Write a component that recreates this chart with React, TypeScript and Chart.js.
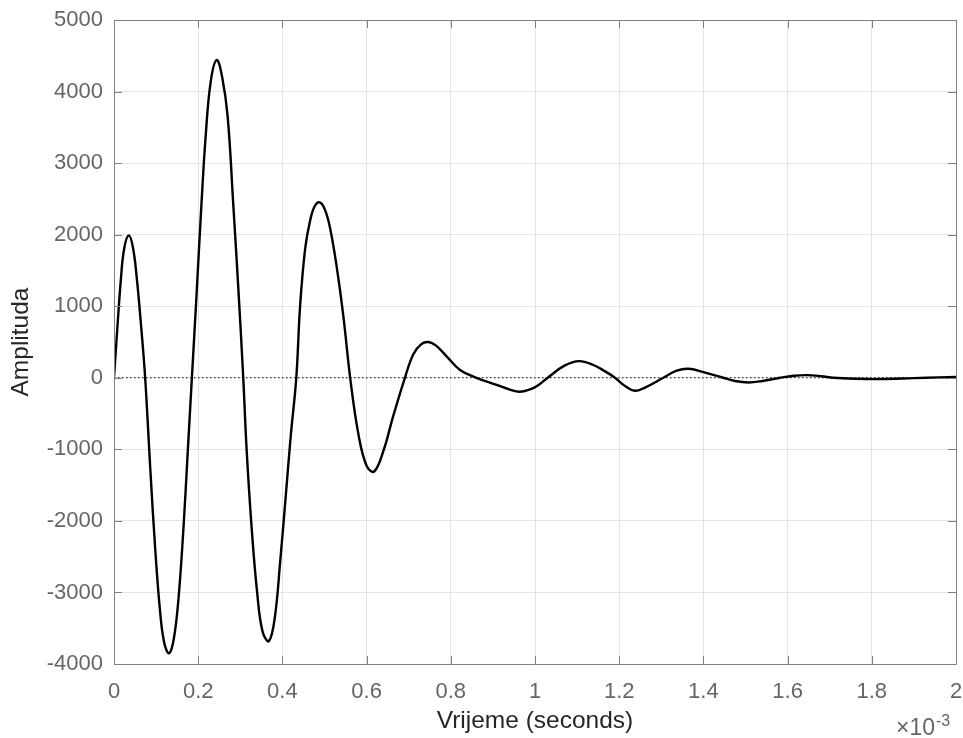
import React, { useEffect, useRef } from "react";
import { Chart, registerables } from "chart.js";

Chart.register(...registerables);

// time in units of 1e-3 s
const timeMs: number[] = [
  0, 0.008, 0.016, 0.024, 0.035, 0.045, 0.054, 0.064, 0.074,
  0.086, 0.098, 0.11, 0.12, 0.131, 0.142, 0.153, 0.165, 0.175, 0.185,
  0.196, 0.207, 0.218, 0.23, 0.244, 0.257, 0.27, 0.283, 0.295, 0.307,
  0.315, 0.327, 0.34, 0.353, 0.368, 0.382, 0.395, 0.408, 0.42, 0.433,
  0.442, 0.454, 0.466, 0.477, 0.489, 0.501, 0.513, 0.529, 0.545, 0.561,
  0.58, 0.6, 0.618, 0.64, 0.663, 0.691,
  0.711, 0.73, 0.747, 0.765, 0.79, 0.822, 0.861,
  0.909, 0.94, 0.964, 0.99, 1.004, 1.03, 1.07, 1.105, 1.14, 1.165, 1.19,
  1.215, 1.237, 1.26, 1.305, 1.335, 1.364, 1.4, 1.447,
  1.475, 1.507, 1.54, 1.582, 1.615, 1.645, 1.68, 1.709, 1.76, 1.82, 1.9, 1.96, 2.0,
];
const amplitude: number[] = [
  0, 700, 1350, 1800, 1990, 1820, 1400, 750, 0,
  -1250, -2400, -3300, -3720, -3850, -3650, -3100, -2100, -1050, 0,
  1150, 2350, 3400, 4150, 4440, 4200, 3650, 2450, 1280, 0,
  -1000, -2100, -3000, -3550, -3680, -3350, -2550, -1650, -800, 0,
  1000, 1800, 2200, 2400, 2450, 2350, 2100, 1550, 850, 0,
  -770, -1230, -1310, -1020, -540, 0,
  330, 470, 500, 450, 300, 110, 0,
  -100, -165, -196, -160, -120, 0, 170, 233, 175, 95, 0,
  -120, -182, -140, 0, 95, 126, 80, 0,
  -45, -65, -45, 0, 28, 37, 22, 0, -14, -18, -5, 5, 10,
];
const zeroLineX: number[] = [0, 2];
const zeroLineY: number[] = [0, 0];

const xTickLabels: string[] = ["0", "0.2", "0.4", "0.6", "0.8", "1", "1.2", "1.4", "1.6", "1.8", "2"];
const yTickLabels: string[] = ["-4000", "-3000", "-2000", "-1000", "0", "1000", "2000", "3000", "4000", "5000"];

const xTitle = "Vrijeme (seconds)";
const yTitle = "Amplituda";
const expBase = "\u00d710";
const expPower = "-3";

const FONT = "'Liberation Sans', Arial, Helvetica, sans-serif";

const matlabBox = {
  id: "matlabBox",
  afterDraw(chart: any) {
    const { ctx, chartArea } = chart;
    const { left, right, top, bottom } = chartArea;
    const xs = chart.scales.x;
    const ys = chart.scales.y;
    ctx.save();
    ctx.strokeStyle = "#808080";
    ctx.lineWidth = 1;
    ctx.beginPath();
    ctx.rect(Math.round(left) + 0.5, Math.round(top) + 0.5, Math.round(right - left), Math.round(bottom - top));
    ctx.stroke();
    const tl = 8;
    ctx.beginPath();
    xs.ticks.forEach((t: any) => {
      const px = Math.round(xs.getPixelForValue(t.value)) + 0.5;
      ctx.moveTo(px, bottom);
      ctx.lineTo(px, bottom - tl);
      ctx.moveTo(px, top);
      ctx.lineTo(px, top + tl);
    });
    ys.ticks.forEach((t: any) => {
      const py = Math.round(ys.getPixelForValue(t.value)) + 0.5;
      ctx.moveTo(left, py);
      ctx.lineTo(left + tl, py);
      ctx.moveTo(right, py);
      ctx.lineTo(right - tl, py);
    });
    ctx.stroke();
    // exponent label
    ctx.fillStyle = "#666666";
    ctx.textBaseline = "alphabetic";
    ctx.textAlign = "left";
    ctx.font = `23px ${FONT}`;
    ctx.fillText(expBase, 896, 735);
    const w = ctx.measureText(expBase).width;
    ctx.font = `16px ${FONT}`;
    ctx.fillText(expPower, 896 + w + 1, 726);
    ctx.restore();
  },
};

export default function App() {
  const ref = useRef<HTMLCanvasElement | null>(null);
  useEffect(() => {
    document.body.style.margin = "0";
    const canvas = ref.current;
    if (!canvas) return;
    const chart = new Chart(canvas, {
      type: "line",
      data: {
        datasets: [
          {
            data: zeroLineX.map((x, i) => ({ x, y: zeroLineY[i] })),
            borderColor: "#000000",
            borderWidth: 1,
            borderDash: [1.5, 2.5],
            pointRadius: 0,
            order: 2,
          },
          {
            data: timeMs.map((x, i) => ({ x, y: amplitude[i] })),
            borderColor: "#000000",
            borderWidth: 2.4,
            pointRadius: 0,
            tension: 0.4,
            order: 1,
          },
        ],
      },
      options: {
        animation: false,
        responsive: false,
        maintainAspectRatio: false,
        layout: { padding: { left: 0, top: 20, right: 7, bottom: 0 } },
        plugins: { legend: { display: false }, tooltip: { enabled: false } },
        scales: {
          x: {
            type: "linear",
            min: 0,
            max: 2,
            afterFit: (s: any) => {
              s.height = 74;
              s.paddingLeft = 0;
              s.paddingRight = 0;
            },
            ticks: {
              stepSize: 0.2,
              autoSkip: false,
              maxRotation: 0,
              padding: 15,
              color: "#666666",
              font: { family: FONT, size: 22 },
              callback: (_v: any, i: number) => xTickLabels[i],
            },
            grid: { color: "#e4e4e4", drawTicks: false },
            border: { display: false },
            title: {
              display: true,
              text: xTitle,
              color: "#262626",
              font: { family: FONT, size: 24.5 },
              padding: { top: 0, bottom: 2 },
            },
          },
          y: {
            type: "linear",
            min: -4000,
            max: 5000,
            afterFit: (s: any) => {
              s.width = 114;
              s.paddingTop = 0;
              s.paddingBottom = 0;
            },
            ticks: {
              stepSize: 1000,
              autoSkip: false,
              padding: 11,
              color: "#666666",
              font: { family: FONT, size: 22 },
              callback: (_v: any, i: number) => yTickLabels[i],
            },
            grid: { color: "#e4e4e4", drawTicks: false },
            border: { display: false },
            title: {
              display: true,
              text: yTitle,
              color: "#262626",
              font: { family: FONT, size: 24.5 },
              padding: { top: 7, bottom: 0 },
            },
          },
        },
      },
      plugins: [matlabBox],
    } as any);
    return () => chart.destroy();
  }, []);
  return (
    <div style={{ position: "absolute", left: 0, top: 0, width: 963, height: 738, background: "#ffffff" }}>
      <canvas ref={ref} width={963} height={738} style={{ display: "block", width: 963, height: 738 }} />
    </div>
  );
}
